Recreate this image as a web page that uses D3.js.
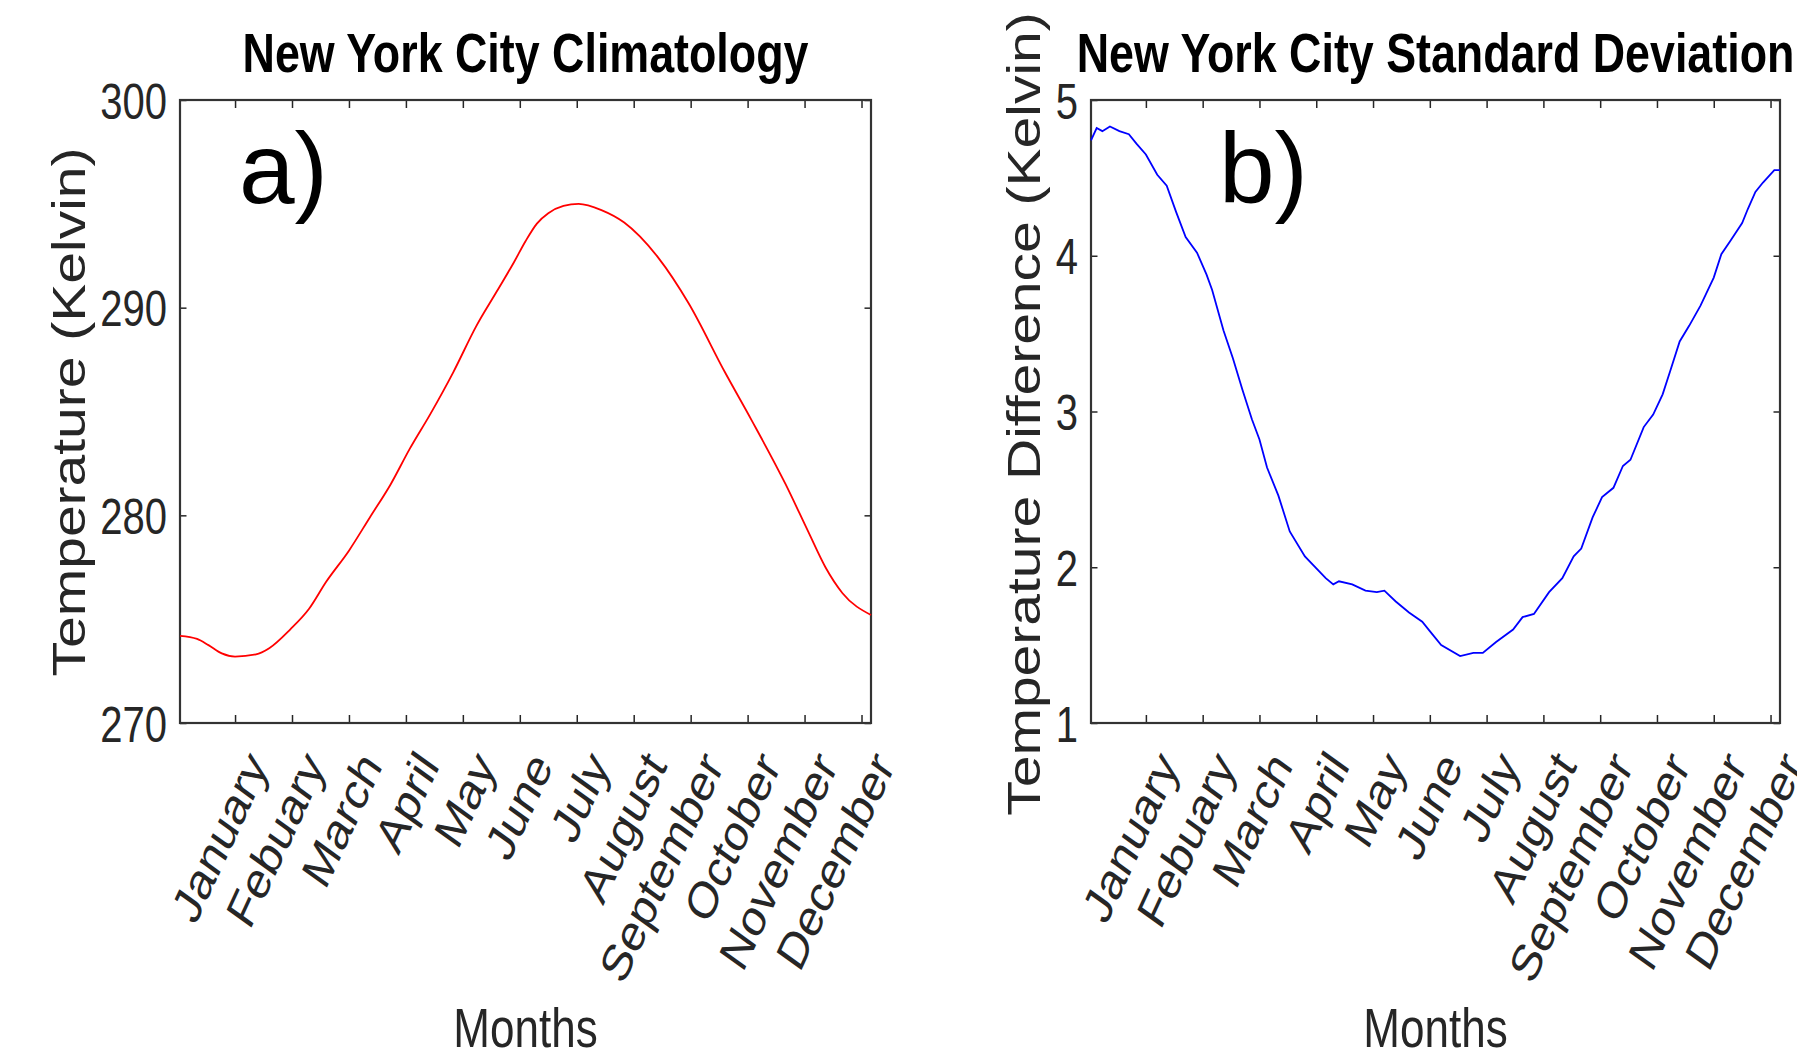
<!DOCTYPE html>
<html>
<head>
<meta charset="utf-8">
<script src="https://cdn.jsdelivr.net/npm/d3@7"></script>
<style>
  body { margin: 0; background: #fff; }
  text { font-family: "Liberation Sans", Arial, Helvetica, sans-serif; }
</style>
</head>
<body>
<svg id="fig" width="1797" height="1059"></svg>
<script>
// month names under the x axis (spelling as in the original figure)
var months = ["January", "Febuary", "March", "April", "May", "June",
              "July", "August", "September", "October", "November", "December"];
var monthTicks = [30, 60, 90, 120, 150, 180, 210, 240, 270, 300, 330, 360];

// a) climatology, day of year -> Kelvin
var climDays = [1, 10, 16, 23, 30, 41, 48, 59, 69, 78, 90, 101, 112, 122, 133, 145, 157,
                168, 177, 183, 189, 195, 203, 211, 223, 235, 253, 269, 288, 302, 320, 332,
                341, 350, 365];
var climTemp = [274.2, 274.05, 273.75, 273.35, 273.2, 273.3, 273.6, 274.5, 275.5, 276.8,
                278.3, 279.9, 281.5, 283.2, 284.9, 286.9, 289.1, 290.8, 292.2, 293.2,
                294.05, 294.55, 294.9, 295.0, 294.7, 294.1, 292.4, 290.2, 286.9, 284.6,
                281.5, 279.2, 277.5, 276.25, 275.2];
var climTicks = [270, 280, 290, 300];

// b) standard deviation, day of year -> Kelvin
var sdDays = [1, 4, 7, 11, 16, 21, 25, 30, 36, 41, 46, 51, 57, 62, 65, 71, 76, 81, 86, 90,
              94, 100, 106, 114, 125, 129, 132, 139, 146, 152, 156, 162, 169, 176, 180,
              186, 196, 203, 208, 215, 224, 229, 235, 243, 250, 256, 260, 266, 271, 277,
              282, 286, 293, 298, 303, 307, 312, 317, 323, 330, 334, 339, 345, 348, 352,
              356, 362, 365];
var sdValues = [4.74, 4.82, 4.80, 4.83, 4.80, 4.78, 4.72, 4.65, 4.52, 4.45, 4.28, 4.12,
                4.02, 3.88, 3.78, 3.52, 3.34, 3.14, 2.95, 2.82, 2.64, 2.46, 2.23, 2.07,
                1.93, 1.89, 1.91, 1.89, 1.85, 1.84, 1.85, 1.78, 1.71, 1.65, 1.59, 1.50,
                1.43, 1.45, 1.45, 1.52, 1.60, 1.68, 1.70, 1.84, 1.93, 2.07, 2.12, 2.32,
                2.45, 2.51, 2.65, 2.69, 2.90, 2.98, 3.11, 3.26, 3.45, 3.55, 3.68, 3.86,
                4.01, 4.10, 4.21, 4.30, 4.41, 4.47, 4.55, 4.55];
var sdTicks = [1, 2, 3, 4, 5];

var svg = d3.select("#fig");
var squeeze = "scale(0.8,1)";   // the whole figure looks squashed sideways
var ink = "#262626";
var plotTop = 100, plotBottom = 723;

function drawPanel(p) {
  var x = d3.scaleLinear().domain([1, 365]).range([p.left, p.right]);
  var y = d3.scaleLinear().domain(p.yDomain).range([plotBottom, plotTop]);
  var cx = (p.left + p.right) / 2;
  var g = svg.append("g");

  // bottom axis with month names
  var xb = g.append("g")
      .attr("transform", "translate(0," + plotBottom + ")")
      .call(d3.axisBottom(x).tickValues(monthTicks).tickSize(-8)
        .tickFormat(function(d, i) { return months[i]; }));
  xb.selectAll("text")
      .attr("x", null).attr("y", null).attr("dy", "0.35em")
      .attr("text-anchor", "end")
      .attr("transform", "translate(21,34) " + squeeze + " rotate(-60)")
      .style("font-size", "52px").style("fill", ink);

  // top ticks
  g.append("g")
      .attr("transform", "translate(0," + plotTop + ")")
      .call(d3.axisTop(x).tickValues(monthTicks).tickSize(-8).tickFormat(""));

  // left axis
  var yl = g.append("g")
      .attr("transform", "translate(" + p.left + ",0)")
      .call(d3.axisLeft(y).tickValues(p.yTicks).tickSize(-6.5).tickFormat(d3.format("d")));
  yl.selectAll("text")
      .attr("x", null).attr("dy", "0.36em")
      .attr("text-anchor", "end")
      .attr("transform", "translate(-13,0) " + squeeze)
      .style("font-size", "50px").style("fill", ink);

  // right ticks
  g.append("g")
      .attr("transform", "translate(" + p.right + ",0)")
      .call(d3.axisRight(y).tickValues(p.yTicks).tickSize(-6.5).tickFormat(""));

  g.selectAll(".domain").remove();
  g.selectAll(".tick line").attr("stroke", ink).attr("stroke-width", 1.5);

  // box
  g.append("rect")
      .attr("x", p.left).attr("y", plotTop)
      .attr("width", p.right - p.left).attr("height", plotBottom - plotTop)
      .attr("fill", "none").attr("stroke", "#333").attr("stroke-width", 2.2);

  // data line
  var line = d3.line()
      .x(function(d) { return x(d[0]); })
      .y(function(d) { return y(d[1]); })
      .curve(p.curve);
  g.append("path")
      .datum(d3.zip(p.days, p.values))
      .attr("d", line)
      .attr("fill", "none")
      .attr("stroke", p.color)
      .attr("stroke-width", 1.8);

  // title
  g.append("text")
      .attr("transform", "translate(" + cx + ",72) " + squeeze)
      .attr("text-anchor", "middle")
      .style("font-size", "56px").style("font-weight", "bold").style("fill", "#000")
      .text(p.title);

  // x label
  g.append("text")
      .attr("transform", "translate(" + cx + ",1047) " + squeeze)
      .attr("text-anchor", "middle")
      .style("font-size", "55px").style("fill", ink)
      .text("Months");

  // y label
  g.append("text")
      .attr("transform", "translate(" + p.ylabelX + "," + p.ylabelY + ") " + squeeze + " rotate(-90)")
      .attr("text-anchor", "middle")
      .style("font-size", "57px").style("fill", ink)
      .text(p.ylabel);

  // panel letter
  g.append("text")
      .attr("x", p.letterX).attr("y", 203)
      .style("font-size", "100px").style("fill", "#000")
      .text(p.letter);
}

drawPanel({
  left: 180, right: 871, yDomain: [270, 300], yTicks: climTicks,
  days: climDays, values: climTemp, color: "#ff0000", curve: d3.curveMonotoneX,
  title: "New York City Climatology", ylabel: "Temperature (Kelvin)",
  ylabelX: 85, ylabelY: 412, letter: "a)", letterX: 239
});

drawPanel({
  left: 1091, right: 1780, yDomain: [1, 5], yTicks: sdTicks,
  days: sdDays, values: sdValues, color: "#0000ff", curve: d3.curveLinear,
  title: "New York City Standard Deviation", ylabel: "Temperature Difference (Kelvin)",
  ylabelX: 1040, ylabelY: 414, letter: "b)", letterX: 1219
});
</script>
</body>
</html>
